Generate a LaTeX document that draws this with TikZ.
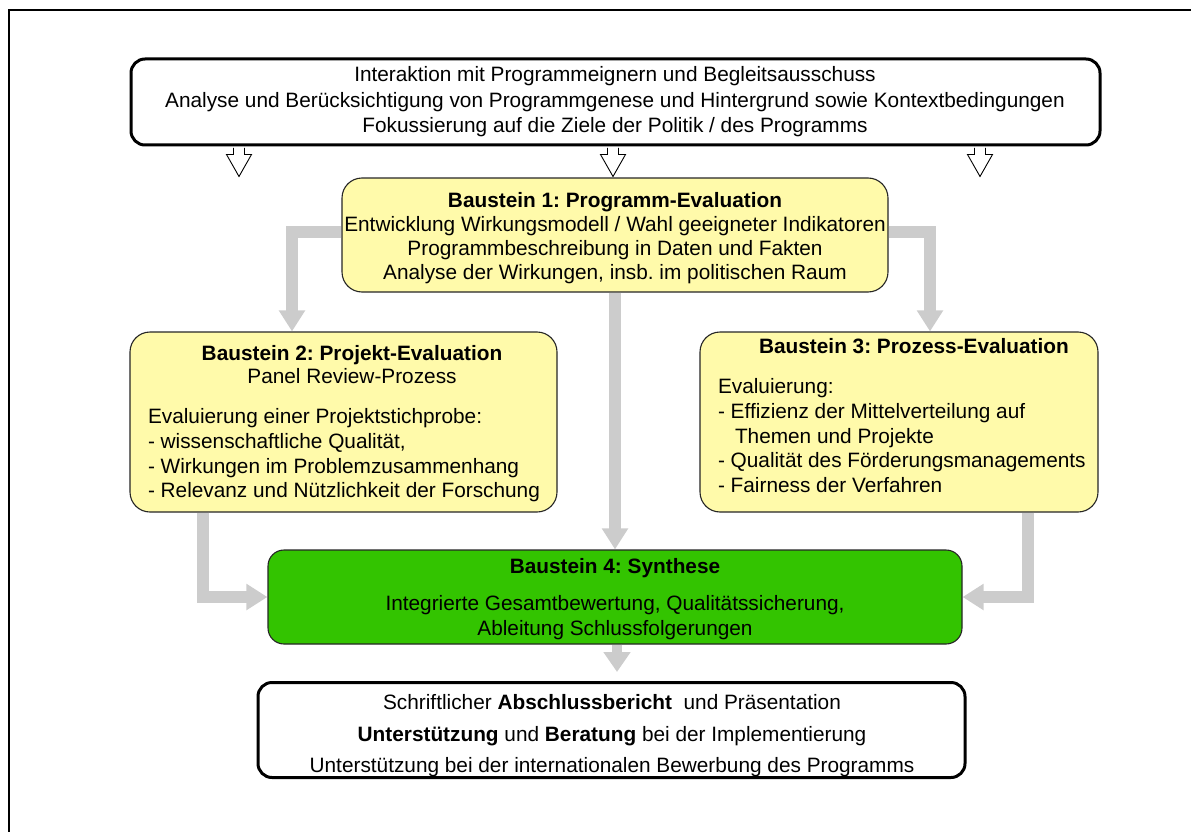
\documentclass[tikz,border=0pt]{standalone}
\usepackage{fontspec}
\setmainfont{Liberation Sans}
\usetikzlibrary{arrows.meta,calc}
\definecolor{boxyellow}{HTML}{FFFAAA}
\definecolor{boxgreen}{HTML}{33C400}
\definecolor{arrgray}{HTML}{CCCCCC}
\frenchspacing
\begin{document}
\frenchspacing
\begin{tikzpicture}[x=1pt,y=-1pt,
  txt/.style={font=\fontsize{20.8}{25}\selectfont, inner sep=0pt, outer sep=0pt},
  thickbox/.style={draw=black, line width=3pt, rounded corners=14pt, fill=white, inner sep=0pt, align=center},
  ybox/.style={draw=black!85, line width=1.1pt, rounded corners=20pt, fill=boxyellow, inner sep=0pt, align=center},
  gbox/.style={draw=black!85, line width=1.1pt, rounded corners=16pt, fill=boxgreen, inner sep=0pt, align=center},
  flow/.style={draw=arrgray, line width=12pt, -{Triangle[width=25pt,length=21pt]}},
  hollow/.style={draw=black, line width=0.9pt, fill=white, line join=miter}
]
\useasboundingbox (0,0) rectangle (1191,832);
\draw[line width=2.5pt] (1191,10) -- (9,10) -- (9,832);

% top box
\node[thickbox, minimum width=969pt, minimum height=86pt] (top) at (615.5,102) {};
\node[txt, align=center, font=\fontsize{20.8}{25.5}\selectfont] (topt) at (615,102)
  {Interaktion mit Programmeignern und Begleitsausschuss\\
   Analyse und Berücksichtigung von Programmgenese und Hintergrund sowie Kontextbedingungen\\
   Fokussierung auf die Ziele der Politik / des Programms};

\foreach \x [count=\i] in {239,613,980} {
  \coordinate (h\i) at (top.south -| \x,0);
  \draw[hollow] ($(h\i)+(-5.5,1.5)$) -- ($(h\i)+(-5.5,8)$) -- ($(h\i)+(-12.5,8)$)
     -- ($(h\i)+(0,30)$) -- ($(h\i)+(12.5,8)$) -- ($(h\i)+(5.5,8)$) -- ($(h\i)+(5.5,1.5)$);
}

% Baustein 1
\node[ybox, minimum width=546pt, minimum height=114pt] (b1) at (615,235) {};
\node[txt, align=center, font=\fontsize{20.8}{24}\selectfont] (b1t) at (615,238)
  {\textbf{Baustein 1: Programm-Evaluation}\\
   Entwicklung Wirkungsmodell / Wahl geeigneter Indikatoren\\
   Programmbeschreibung in Daten und Fakten\\
   Analyse der Wirkungen, insb. im politischen Raum};

% Baustein 2
\node[ybox, minimum width=427pt, minimum height=180pt] (b2) at (343.5,422) {};
\node[txt, anchor=base] (b2t) at (352,360) {\textbf{Baustein 2: Projekt-Evaluation}};
\node[txt, anchor=base] (b2s) at (352,383) {Panel Review-Prozess};
\node[txt, anchor=base west] (b2a) at (148,423) {Evaluierung einer Projektstichprobe:};
\node[txt, anchor=base west] (b2b) at (148,448) {- wissenschaftliche Qualität,};
\node[txt, anchor=base west] (b2c) at (148,473) {- Wirkungen im Problemzusammenhang};
\node[txt, anchor=base west] (b2d) at (148,497) {- Relevanz und Nützlichkeit der Forschung};

% Baustein 3
\node[ybox, minimum width=398pt, minimum height=180pt] (b3) at (899,422) {};
\node[txt, anchor=base] (b3t) at (914,353) {\textbf{Baustein 3: Prozess-Evaluation}};
\node[txt, anchor=base west] (b3a) at (718,393) {Evaluierung:};
\node[txt, anchor=base west] (b3b) at (718,418) {- Effizienz der Mittelverteilung auf};
\node[txt, anchor=base west] (b3c) at (735,443) {Themen und Projekte};
\node[txt, anchor=base west] (b3d) at (718,467) {- Qualität des Förderungsmanagements};
\node[txt, anchor=base west] (b3e) at (718,492) {- Fairness der Verfahren};

% Baustein 4
\node[gbox, minimum width=694pt, minimum height=94pt] (b4) at (615,597) {};
\node[txt, align=center] (b4t) at (615,599)
  {\textbf{Baustein 4: Synthese}\\[12pt]
   Integrierte Gesamtbewertung, Qualitätssicherung,\\
   Ableitung Schlussfolgerungen};

% final box
\node[thickbox, minimum width=707pt, minimum height=95pt] (fin) at (611.5,730) {};
\node[txt, align=center, font=\fontsize{20.8}{31.5}\selectfont] (fint) at (612,736)
  {Schriftlicher \textbf{Abschlussbericht}\ \ und Präsentation\\
   \textbf{Unterstützung} und \textbf{Beratung} bei der Implementierung\\
   Unterstützung bei der internationalen Bewerbung des Programms};

% gray flows
\draw[flow] (b1.west |- 0,232) -| (b2.north -| 292,0);
\draw[flow] (b1.east |- 0,232) -| (b3.north -| 930,0);
\draw[flow] (b1.south) -- (b4.north);
\draw[flow] (b2.south -| 203,0) |- (b4.west);
\draw[flow] (b3.south -| 1028,0) |- (b4.east);
\draw[draw=arrgray, line width=10pt, -{Triangle[width=26pt,length=20pt]}, shorten >=9pt] (b4.south -| 617,0) -- (fin.north -| 617,0);
\end{tikzpicture}
\end{document}
